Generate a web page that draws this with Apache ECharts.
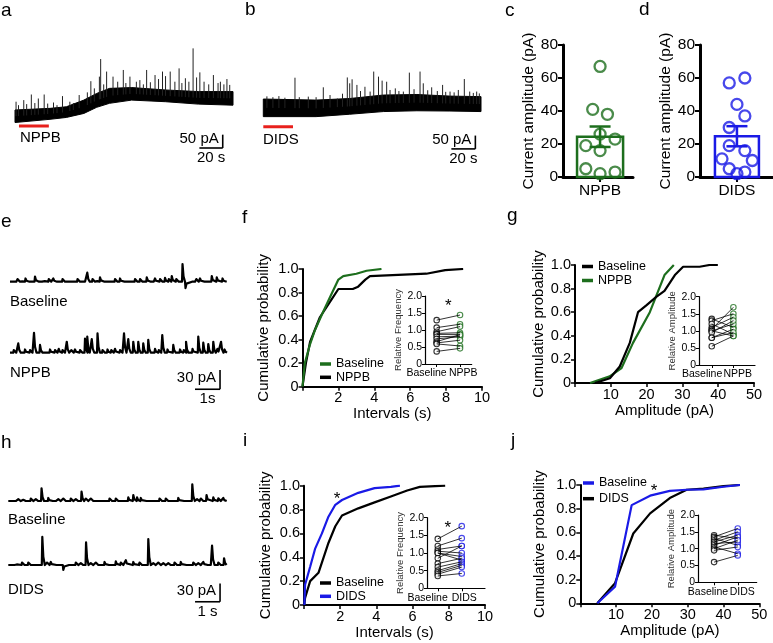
<!DOCTYPE html>
<html><head><meta charset="utf-8">
<script src="https://cdn.jsdelivr.net/npm/echarts@6/dist/echarts.min.js"></script>
<style>html,body{margin:0;padding:0;background:#fff}#c{width:773px;height:643px}</style>
</head><body><div id="c"></div>
<script>
// ================= DATA =================
// Panel a: whole-cell trace (time s, current pA) – noise band envelope + spontaneous events
const traceA_upper = [[0,44],[30,50],[44,56],[59,81],[70,106],[81,125],[100,128],[129,119],[157,113],[186.8,113]];
const traceA_lower = [[0,-3],[30,9],[44,16],[59,31],[70,54],[81,69],[100,81],[129,75],[157,66],[186.8,62]];
const traceA_spikes = [[0.9,75],[3,62],[7.5,81],[10,66],[14,102],[17,70],[20,87],[25,102],[28,68],[33,72],[36,62],[40.7,96],[47,75],[50,70],[55,100],[62,110],[65,152],[68,125],[72.3,169],[73.4,235],[76,140],[78.5,188],[84,169],[88,150],[92.8,194],[95,145],[98.5,169],[104,150],[107,156],[110,140],[112.8,194],[116,148],[120,175],[123,160],[126.4,188],[129,171],[133,188],[137,150],[140.6,200],[143,145],[146,163],[149,150],[152.6,275],[155.6,166],[158.4,185],[162,150],[166,140],[170,175],[174,145],[176,150],[179,140],[181.6,160],[184,138]];
const drugBarA = [[3.4,-16],[29,-16]];
// Panel b
const traceB_upper = [[0,85],[44,81],[72,87],[100,100],[128,102],[155.5,96],[181.4,94]];
const traceB_lower = [[0,19],[44,19],[72,28],[100,38],[128,41],[155.5,40],[181.4,38]];
const traceB_spikes = [[3,95],[8,92],[13,96],[18,90],[26.4,165],[30,92],[37.5,94],[44,92],[50,129],[55.6,100],[61.7,87],[66,105],[70,166],[72,144],[74,159],[78,138],[81,115],[84.7,131],[89,113],[92,188],[96,169],[99,154],[102.8,150],[105.6,119],[110,125],[113,115],[116.7,113],[121.7,184],[125.6,122],[130.6,188],[133.3,144],[137,118],[140.3,129],[145,115],[149.4,138],[152,112],[155.6,113],[159,110],[162.5,119],[167.5,160],[172,113],[175,108],[177.8,113],[180,106]];
const drugBarB = [[0,-19],[24.75,-19]];
// Panels c, d: individual cells (pA), jitter, mean, SEM
const cValues = [67,41,38,26,23,19,16,5,2,3];
const cJitter = [0,-0.32,0.32,0,0.65,-0.62,0,-0.62,0,0.65];
const cMean = 24.4, cSem = 6.2;
const dValues = [60,57,44,37,30,19,16,11,10,5,3,2];
const dJitter = [0.36,-0.35,0,0.36,-0.35,-0.35,0.36,-0.68,0.7,-0.35,0.36,0];
const dMean = 24.7, dSem = 6.1;
// Panel e traces: events [time s, amplitude pA]
const eBaseEvents = [[0.15,3],[0.3,4],[0.45,2],[0.62,5],[0.8,3],[1.0,7.8],[1.18,3],[1.35,3],[1.55,4],[1.73,5],[1.9,2],[2.1,4],[2.3,3],[2.5,3],[2.7,4],[2.9,3],[3.09,14],[3.3,4],[3.45,3],[3.6,6.7],[3.8,2],[4.0,3],[4.2,4],[4.4,5],[4.6,3],[4.8,3],[5.0,4],[5.2,4],[5.47,6.7],[5.65,3],[5.8,5],[6.0,4],[6.2,6],[6.35,4],[6.47,8.8],[6.65,4],[6.9,27.5],[7.02,-10],[7.3,3],[7.45,4],[7.6,5],[7.8,3],[8.07,8.8],[8.27,6.7],[8.5,5]];
const eNppbEvents = [[0.15,4],[0.33,14.5],[0.6,5],[0.8,4],[0.96,31],[1.2,12],[1.4,3],[1.6,5],[1.8,4],[1.95,6],[2.1,4],[2.27,17],[2.45,4],[2.6,5],[2.8,4],[3.0,22],[3.09,25],[3.27,21],[3.5,30],[3.7,4],[3.9,5],[4.05,4],[4.2,6],[4.4,4],[4.56,30],[4.73,21],[4.93,17],[5.13,17],[5.33,14.5],[5.53,20],[5.8,6],[5.95,4],[6.09,27.5],[6.3,5],[6.53,12],[6.8,5],[6.95,4],[7.04,17],[7.3,6],[7.53,25],[7.73,15.5],[7.93,13.5],[8.13,17],[8.3,6],[8.44,17],[8.58,5]];
// Panel f: cumulative probability of inter-event intervals (s)
const fBaseline = [[0,0],[0.13,0.2],[0.4,0.35],[0.69,0.48],[1.1,0.62],[1.53,0.76],[2.0,0.91],[2.27,0.94],[3.0,0.96],[3.57,0.985],[4.4,1.0]];
const fNPPB = [[0,0],[0.19,0.2],[0.42,0.38],[0.97,0.59],[1.53,0.72],[2.0,0.83],[2.8,0.83],[3.1,0.85],[3.5,0.91],[3.76,0.94],[6.9,0.96],[7.95,0.99],[8.95,1.0]];
const fInsetBaseline = [1.29,1.07,0.95,0.9,0.87,0.8,0.74,0.66,0.62,0.59,0.37];
const fInsetNPPB = [1.44,1.17,1.1,0.92,0.87,0.82,0.8,0.86,0.7,0.53,0.46];
// Panel g: cumulative probability of amplitudes (pA)
const gBaseline = [[5.6,0],[9.75,0.04],[12.5,0.14],[15.3,0.34],[17.6,0.6],[20,0.66],[22.7,0.73],[25,0.78],[27.9,0.915],[30.2,0.985],[34.8,0.985],[37.6,1.0],[39.9,1.0]];
const gNPPB = [[4.2,0],[9.7,0.056],[13,0.127],[16.2,0.34],[20.9,0.6],[25,0.915],[27.6,1.0]];
const gInsetBaseline = [1.35,1.3,1.2,1.1,1.05,1.0,1.0,0.95,0.8,0.8,0.55];
const gInsetNPPB = [1.1,1.5,0.9,1.4,1.69,1.2,0.85,1.3,1.05,0.95,0.85];
// Panel h traces
const hBaseEvents = [[0.2,3],[0.4,3],[0.6,2],[0.9,4],[1.1,3],[1.33,20.8],[1.6,5],[1.8,3],[2.0,3],[2.2,4],[2.5,4],[2.7,3],[2.93,15.3],[3.1,4],[3.3,4],[3.55,3],[3.8,3],[4.05,4],[4.3,4],[4.55,3],[4.8,6],[5.0,9.8],[5.15,6],[5.3,5],[5.55,3],[5.8,3],[6.05,4],[6.3,4],[6.55,3],[6.8,5],[7.05,3],[7.36,27.3],[7.55,3],[7.7,4],[7.93,9.8],[8.2,6],[8.4,4.4],[8.6,5]];
const hDidsEvents = [[0.15,3],[0.3,3],[0.55,4],[0.8,4],[1.05,3],[1.36,46],[1.55,4],[1.7,5],[1.95,3],[2.2,-8],[2.45,3],[2.7,4],[2.9,3],[3.11,37],[3.3,3],[3.5,4],[3.85,5],[4.05,3],[4.3,6],[4.5,4],[4.7,8],[5.0,5],[5.25,4],[5.6,42.6],[5.8,3],[6.0,4],[6.2,3],[6.4,3],[6.65,4],[6.9,5],[7.15,3],[7.4,4],[7.6,3],[7.8,5],[8.0,3],[8.15,31.7],[8.4,4],[8.63,11]];
// Panel i
const iBaseline = [[0.02,0],[0.06,0.06],[0.34,0.2],[0.8,0.27],[1.35,0.52],[1.73,0.66],[2.1,0.75],[3.0,0.81],[3.9,0.86],[4.8,0.91],[5.7,0.96],[6.4,0.99],[7.8,1.0]];
const iDIDS = [[0.02,0],[0.06,0.17],[0.34,0.32],[0.61,0.47],[0.99,0.6],[1.35,0.74],[1.73,0.84],[2.1,0.88],[3.0,0.94],[3.9,0.98],[4.8,0.99],[5.3,1.0]];
const iInsetBaseline = [1.4,1.2,1.1,1.05,1.0,1.0,0.85,0.7,0.6,0.5,0.45,0.4,0.35];
const iInsetDIDS = [1.76,1.42,1.2,1.0,0.9,0.8,1.2,0.85,0.75,0.7,0.65,0.6,0.42];
// Panel j
const jBaseline = [[4.75,0],[9.7,0.14],[14.35,0.83],[19.5,0.91],[25,0.95],[29.7,0.96],[34.4,0.963],[40,0.985],[44.6,1.0]];
const jDIDS = [[4.75,0],[9.7,0.17],[14.8,0.59],[19.5,0.76],[25,0.89],[29.7,0.96],[34.4,0.97],[40,0.99],[44.6,1.0]];
const jInsetBaseline = [1.4,1.35,1.3,1.25,1.2,1.15,1.1,1.05,1.0,0.95,0.6];
const jInsetDIDS = [1.3,1.6,1.1,1.5,1.4,1.2,1.35,0.85,1.25,1.05,0.8];

// ================= STYLE / LAYOUT =================
const FONT = '"Liberation Sans", Arial, sans-serif';
const GREEN = '#1d6e1d', BLUE = '#1a1ae6', RED = '#e8201c';
const chart = echarts.init(document.getElementById('c'), null, {renderer:'canvas'});

const grids = [
  {left:15, top:30, width:218, height:110},        //0 a
  {left:263.3, top:30, width:217.7, height:110},   //1 b
  {left:563, top:45, width:70, height:132},        //2 c
  {left:700, top:45, width:73, height:132},        //3 d
  {left:10, top:250, width:216.7, height:50},      //4 e baseline
  {left:10, top:321, width:216.7, height:50},      //5 e NPPB
  {left:302.5, top:269, width:179.5, height:117.7},//6 f
  {left:425, top:296, width:46.7, height:68},      //7 f inset
  {left:575, top:265, width:179, height:118},      //8 g
  {left:699, top:296.7, width:56, height:68.3},    //9 g inset
  {left:8.3, top:470, width:218.4, height:50},     //10 h baseline
  {left:8.3, top:534, width:218.4, height:50},     //11 h DIDS
  {left:304, top:485.7, width:181, height:119.3},  //12 i
  {left:427, top:517.7, width:58, height:70.6},    //13 i inset
  {left:580.3, top:485, width:179, height:118.3},  //14 j
  {left:698, top:515, width:58.7, height:67.3}     //15 j inset
];

const xAxes = [], yAxes = [];
function hid(gi, x0, x1, y0, y1){
  xAxes[gi] = {gridIndex:gi, type:'value', min:x0, max:x1, show:false};
  yAxes[gi] = {gridIndex:gi, type:'value', min:y0, max:y1, show:false};
}
const lbl = (fs) => ({color:'#000', fontSize:fs, fontFamily:FONT});
function barAxes(gi, x0, x1, cat, yname){
  xAxes[gi] = {gridIndex:gi, type:'value', min:x0, max:x1,
    axisLine:{onZero:false, lineStyle:{color:'#000', width:3}},
    axisTick:{customValues:[0], length:5, lineStyle:{color:'#000', width:2}},
    axisLabel:Object.assign({customValues:[0], formatter:()=>cat, margin:6}, lbl(15.5)),
    splitLine:{show:false}};
  yAxes[gi] = {gridIndex:gi, type:'value', min:0, max:80, interval:20,
    axisLine:{show:true, onZero:false, lineStyle:{color:'#000', width:3}},
    axisTick:{show:true, length:5, lineStyle:{color:'#000', width:2}},
    axisLabel:Object.assign({margin:5}, lbl(15.5)),
    splitLine:{show:false},
    name:yname, nameLocation:'middle', nameGap:26, nameTextStyle:lbl(15.5)};
}
function cumAxes(gi, xmax, xint, xname, yname, gapX, gapY){
  xAxes[gi] = {gridIndex:gi, type:'value', min:0, max:xmax, interval:xint,
    axisLine:{onZero:false, lineStyle:{color:'#000', width:2}},
    axisTick:{length:4, lineStyle:{color:'#000', width:1.5}},
    axisLabel:Object.assign({margin:4, formatter:v => v===0 ? '' : String(v)}, lbl(14.5)),
    splitLine:{show:false},
    name:xname, nameLocation:'middle', nameGap:gapX, nameTextStyle:lbl(15)};
  yAxes[gi] = {gridIndex:gi, type:'value', min:0, max:1, interval:0.2,
    axisLine:{show:true, onZero:false, lineStyle:{color:'#000', width:2}},
    axisTick:{show:true, length:4, lineStyle:{color:'#000', width:1.5}},
    axisLabel:Object.assign({margin:4, formatter:v => v===0 ? '0' : v.toFixed(1)}, lbl(14.5)),
    splitLine:{show:false},
    name:yname, nameLocation:'middle', nameGap:gapY, nameTextStyle:lbl(15)};
}
function insetAxes(gi, x0, x1, yname){
  xAxes[gi] = {gridIndex:gi, type:'value', min:x0, max:x1,
    axisLine:{onZero:false, lineStyle:{color:'#000', width:1.2}},
    axisTick:{customValues:[0,1], length:3, lineStyle:{color:'#000', width:1}},
    axisLabel:{show:false},
    splitLine:{show:false}};
  yAxes[gi] = {gridIndex:gi, type:'value', min:0, max:2, interval:0.5,
    axisLine:{show:true, onZero:false, lineStyle:{color:'#000', width:1.2}},
    axisTick:{show:true, length:3, lineStyle:{color:'#000', width:1}},
    axisLabel:Object.assign({margin:3, formatter:v => v===0 ? '0' : v.toFixed(1)}, lbl(10.5)),
    splitLine:{show:false},
    name:yname, nameLocation:'middle', nameGap:21, nameTextStyle:{color:'#333', fontSize:9.5, fontFamily:FONT}};
}

hid(0, 0, 186.8, -68.6, 343.9);
hid(1, 0, 181.4, -68.6, 343.9);
barAxes(2, -1.61, 1.43, 'NPPB', 'Current amplitude (pA)');
barAxes(3, -1.68, 1.64, 'DIDS', 'Current amplitude (pA)');
hid(4, 0, 8.667, -28.5, 49.3);
hid(5, 0, 8.667, -28.5, 49.3);
cumAxes(6, 10, 2, 'Intervals (s)', 'Cumulative probability', 19, 31);
insetAxes(7, -0.5, 1.5, 'Relative Frequency');
cumAxes(8, 50, 10, 'Amplitude (pA)', 'Cumulative probability', 19, 29);
insetAxes(9, -0.59, 2.0, 'Relative Amplitude');
hid(10, 0, 8.736, -31.1, 50.8);
hid(11, 0, 8.736, -31.1, 50.8);
cumAxes(12, 10, 2, 'Intervals (s)', 'Cumulative probability', 16, 31);
insetAxes(13, -0.45, 1.97, 'Relative Frequency');
cumAxes(14, 50, 10, 'Amplitude (pA)', 'Cumulative probability', 16, 33);
insetAxes(15, -0.68, 1.8, 'Relative Amplitude');

// ================= SERIES =================
const series = [];
function interp(env, t){
  for (let k=0;k<env.length-1;k++){
    if (t>=env[k][0] && t<=env[k+1][0]){
      const f=(t-env[k][0])/(env[k+1][0]-env[k][0]);
      return env[k][1]+f*(env[k+1][1]-env[k][1]);
    }
  }
  return env[env.length-1][1];
}
function band(gi, upper, lower){
  series.push({type:'custom', xAxisIndex:gi, yAxisIndex:gi, data:upper, silent:true, animation:false,
    renderItem:(params, api) => {
      if (params.dataIndex !== 0) return {type:'group', children:[]};
      const pts = upper.map(p => api.coord(p)).concat(lower.slice().reverse().map(p => api.coord(p)));
      return {type:'polygon', shape:{points:pts}, style:{fill:'#000', stroke:'#000', lineWidth:1}};
    }});
}
function spikes(gi, list, upper, lower){
  series.push({type:'custom', xAxisIndex:gi, yAxisIndex:gi, data:list, silent:true, animation:false,
    renderItem:(params, api) => {
      const t = api.value(0), h = api.value(1);
      const base = (interp(upper,t)+interp(lower,t))/2;
      const p1 = api.coord([t, base]), p2 = api.coord([t, h]);
      return {type:'line', shape:{x1:p1[0], y1:p1[1], x2:p2[0], y2:p2[1]}, style:{stroke:'#222', lineWidth:1}};
    }});
}
function traceLine(gi, events, tEnd){
  const pts = [[0,0]];
  events.slice().sort((a,b)=>a[0]-b[0]).forEach(([t,h]) => {
    pts.push([t-0.02,0],[t,h],[t+0.04,h*0.3],[t+0.1,0]);
  });
  pts.push([tEnd,0]);
  series.push({type:'line', xAxisIndex:gi, yAxisIndex:gi, data:pts, symbol:'none', silent:true, animation:false,
    lineStyle:{color:'#000', width:2.2, join:'round'}});
}
function plainLine(gi, data, color, width, name){
  series.push({type:'line', name:name, xAxisIndex:gi, yAxisIndex:gi, data:data, symbol:'none', silent:true, animation:false,
    color:color, itemStyle:{color:color}, lineStyle:{color:color, width:width}});
}
function barPanel(gi, vals, jit, mean, sem, color){
  series.push({type:'custom', xAxisIndex:gi, yAxisIndex:gi, data:[[0, mean, sem]], silent:true, animation:false,
    renderItem:(params, api) => {
      const x = api.value(0), m = api.value(1), s = api.value(2);
      const tl = api.coord([x-1, m]), br = api.coord([x+1, 0]);
      const et = api.coord([x, m+s]), eb = api.coord([x, m-s]);
      const cw = 10.5;
      const st = {stroke:color, lineWidth:2.5, fill:null};
      return {type:'group', children:[
        {type:'rect', shape:{x:tl[0], y:tl[1], width:br[0]-tl[0], height:br[1]-tl[1]}, style:{stroke:color, lineWidth:2.5, fill:'rgba(0,0,0,0)'}},
        {type:'line', shape:{x1:et[0], y1:et[1], x2:eb[0], y2:eb[1]}, style:st},
        {type:'line', shape:{x1:et[0]-cw, y1:et[1], x2:et[0]+cw, y2:et[1]}, style:st},
        {type:'line', shape:{x1:eb[0]-cw, y1:eb[1], x2:eb[0]+cw, y2:eb[1]}, style:st}
      ]};
    }});
  series.push({type:'scatter', xAxisIndex:gi, yAxisIndex:gi, data:vals.map((v,k)=>[jit[k], v]), symbol:'circle', symbolSize:11,
    silent:true, animation:false, itemStyle:{color:'rgba(255,255,255,0)', borderColor:color, borderWidth:2.3}});
}
function insetPairs(gi, left, right, color){
  left.forEach((b,k) => {
    series.push({type:'line', xAxisIndex:gi, yAxisIndex:gi, data:[[0,b],[1,right[k]]], symbol:'none', silent:true, animation:false,
      lineStyle:{color:'#000', width:0.8}});
  });
  series.push({type:'scatter', xAxisIndex:gi, yAxisIndex:gi, data:left.map(v=>[0,v]), symbolSize:5.5, silent:true, animation:false,
    itemStyle:{color:'#fff', borderColor:'#000', borderWidth:1.1}});
  series.push({type:'scatter', xAxisIndex:gi, yAxisIndex:gi, data:right.map(v=>[1,v]), symbolSize:5.5, silent:true, animation:false,
    itemStyle:{color:'#fff', borderColor:color, borderWidth:1.1}});
}

band(0, traceA_upper, traceA_lower); spikes(0, traceA_spikes, traceA_upper, traceA_lower);
plainLine(0, drugBarA, RED, 3);
band(1, traceB_upper, traceB_lower); spikes(1, traceB_spikes, traceB_upper, traceB_lower);
plainLine(1, drugBarB, RED, 3);
barPanel(2, cValues, cJitter, cMean, cSem, GREEN);
barPanel(3, dValues, dJitter, dMean, dSem, BLUE);
traceLine(4, eBaseEvents, 8.667);
traceLine(5, eNppbEvents, 8.667);
plainLine(6, fNPPB, '#000', 2.2, 'NPPB_f');
plainLine(6, fBaseline, GREEN, 2.2, 'Baseline_f');
insetPairs(7, fInsetBaseline, fInsetNPPB, GREEN);
plainLine(8, gNPPB, GREEN, 2.2, 'NPPB_g');
plainLine(8, gBaseline, '#000', 2.2, 'Baseline_g');
insetPairs(9, gInsetBaseline, gInsetNPPB, GREEN);
traceLine(10, hBaseEvents, 8.736);
traceLine(11, hDidsEvents, 8.736);
plainLine(12, iBaseline, '#000', 2.2, 'Baseline_i');
plainLine(12, iDIDS, BLUE, 2.2, 'DIDS_i');
insetPairs(13, iInsetBaseline, iInsetDIDS, BLUE);
plainLine(14, jDIDS, '#000', 2.2, 'DIDS_j');
plainLine(14, jBaseline, BLUE, 2.2, 'Baseline_j');
insetPairs(15, jInsetBaseline, jInsetDIDS, BLUE);

function legend(names, left, top, gap){
  return {data:names, left:left, top:top, orient:'vertical', icon:'rect', itemWidth:11, itemHeight:3.5, itemGap:gap,
    padding:0, selectedMode:false, formatter:n => n.split('_')[0],
    textStyle:{color:'#000', fontSize:12.5, lineHeight:13, fontFamily:FONT}};
}

chart.setOption({
  animation:false,
  grid:grids,
  xAxis:xAxes,
  yAxis:yAxes,
  legend:[
    legend(['Baseline_f','NPPB_f'], 320, 357.5, 0.3),
    legend(['Baseline_g','NPPB_g'], 582, 260, 1),
    legend(['Baseline_i','DIDS_i'], 320, 576.5, 0.3),
    legend(['Baseline_j','DIDS_j'], 583, 476.5, 2.7)
  ],
  series:series
});

// ================= ANNOTATIONS (letters, labels, scale bars, stars) =================
const px = (gi, p) => chart.convertToPixel({gridIndex:gi}, p);
const g = [];
function txt(s, x, y, fs, align, valign, color){
  g.push({type:'text', x:x, y:y, silent:true, style:{text:s, font:fs+'px '+FONT, fill:color||'#000', align:align||'left', verticalAlign:valign||'middle'}});
}
function seg(a, b, w){
  g.push({type:'line', silent:true, shape:{x1:a[0], y1:a[1], x2:b[0], y2:b[1]}, style:{stroke:'#000', lineWidth:w||1.5}});
}
// panel letters
[['a',1,11],['b',245,10],['c',505,11],['d',639,10],['e',1,222],['f',242,218],['g',507,216],['h',1,443],['i',243,441],['j',511,441]]
  .forEach(([s,x,y]) => txt(s, x, y, 19));
// trace labels
txt('NPPB', 20, 138, 15); txt('DIDS', 263, 140, 15);
txt('Baseline', 10, 302, 15); txt('NPPB', 10, 373, 15);
txt('Baseline', 8, 520, 15); txt('DIDS', 8, 590, 15);
// scale bars
function scaleBar(gi, tRight, yBottom, dt, dy, yText, tText){
  const pb = px(gi, [tRight, yBottom]), pt = px(gi, [tRight, yBottom+dy]), ph = px(gi, [tRight-dt, yBottom]);
  seg(pt, pb, 1.6); seg(ph, pb, 1.6);
  txt(yText, pb[0]-4, (pt[1]+pb[1])/2-2, 15, 'right');
  txt(tText, (ph[0]+pb[0])/2, pb[1]+10, 15, 'center');
}
scaleBar(0, 178, -98.6, 20, 50, '50 pA', '20 s');
scaleBar(1, 176.7, -102, 20, 50, '50 pA', '20 s');
scaleBar(5, 8.4, -56.9, 1, 30, '30 pA', '1s');
scaleBar(11, 8.47, -60.2, 1, 30, '30 pA', '1 s');
// inset category labels
function insetCats(gi, leftName, rightName, dxL, dxR){
  const p0 = px(gi, [0, 0]), p1 = px(gi, [1, 0]);
  txt(leftName, p0[0]+dxL, p0[1]+9.5, 10.5, 'right');
  txt(rightName, p1[0]+dxR, p1[1]+9.5, 10.5, 'left');
}
insetCats(7, 'Baseline', 'NPPB', 10, -11);
insetCats(9, 'Baseline', 'NPPB', 10.5, -10);
insetCats(13, 'Baseline', 'DIDS', 10, -10);
insetCats(15, 'Baseline', 'DIDS', 14, -8);
// significance stars
function star(gi, p){ const q = px(gi, p); txt('*', q[0], q[1]+4, 17, 'center'); }
star(7, [0.5, 1.8]);
star(12, [1.82, 0.92]);
star(13, [0.42, 1.82]);
star(14, [20.6, 0.98]);
chart.setOption({graphic:g});
</script></body></html>
